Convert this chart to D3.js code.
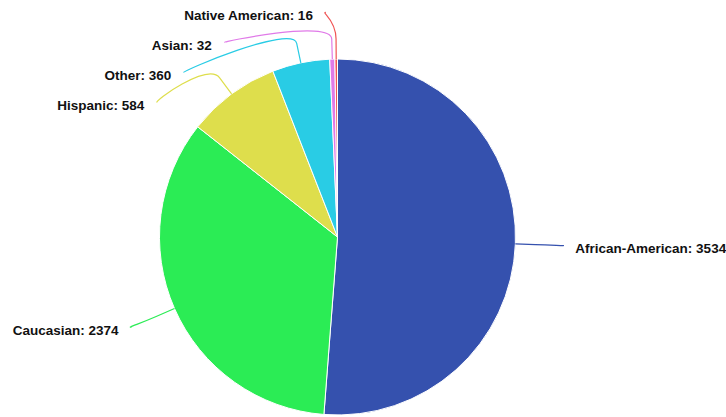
<!DOCTYPE html>
<html>
<head>
<meta charset="utf-8">
<script src="https://cdn.jsdelivr.net/npm/d3@7"></script>
<style>
  body { margin: 0; background: #fff; }
  text { font-family: "Liberation Sans", Arial, sans-serif; font-weight: bold; font-size: 13.5px; fill: #111; }
</style>
</head>
<body>
<script>
const width = 726;
const height = 417;
const cx = 337.5, cy = 237;
const radius = 178;
const labelRadius = 225;   // circle the label anchors sit on
const breakOffset = 20;    // where the connector bends, outside the slice
const labelGap = 30;       // min vertical spacing between labels on a side
const textPad = 13;

var categories = ["African-American", "Caucasian", "Hispanic", "Other", "Asian", "Native American"];
var counts = [3534, 2374, 584, 360, 32, 16];
var colors = ["#3551ae", "#2bec55", "#dede4c", "#29cce5", "#e07ae8", "#f05454"];

var dataSet = categories.map(function(c, i) { return {name: c, value: counts[i], color: colors[i]}; });

var svg = d3.select("body").append("svg")
    .attr("width", width)
    .attr("height", height);

var pie = d3.pie().sort(null).value(function(d) { return d.value; });
var arc = d3.arc().innerRadius(0).outerRadius(radius);
var arcs = pie(dataSet);

var g = svg.append("g").attr("transform", "translate(" + cx + "," + cy + ")");

g.selectAll("path.slice")
    .data(arcs)
    .enter().append("path")
    .attr("class", "slice")
    .attr("d", arc)
    .attr("fill", function(d) { return d.data.color; })
    .attr("stroke", "#fff")
    .attr("stroke-width", 1);

// label positions: natural spot on the label circle, then pushed apart per side
function polar(a, r) { return [Math.sin(a) * r, -Math.cos(a) * r]; }

var labels = arcs.map(function(d) {
    var mid = (d.startAngle + d.endAngle) / 2;
    var nat = polar(mid, labelRadius);
    return {d: d, mid: mid, left: nat[0] < 0, y: nat[1]};
});

var minY = -labelRadius + 0.3;
[true, false].forEach(function(side) {
    var list = labels.filter(function(l) { return l.left === side; })
        .sort(function(a, b) { return a.y - b.y; });
    var prev = -Infinity;
    list.forEach(function(l) {
        l.y = Math.max(l.y, prev + labelGap, minY);
        prev = l.y;
    });
});

labels.forEach(function(l) {
    var dy = Math.max(-1, Math.min(1, l.y / labelRadius));
    l.x = (l.left ? -1 : 1) * Math.cos(Math.asin(dy)) * labelRadius;
    l.touch = polar(l.mid, radius);
    l.brk = polar(l.mid, radius + breakOffset);
});

g.selectAll("path.connector")
    .data(labels)
    .enter().append("path")
    .attr("class", "connector")
    .attr("fill", "none")
    .attr("stroke", function(l) { return l.d.data.color; })
    .attr("stroke-width", 1.2)
    .attr("d", function(l) {
        var c2x = 2 * l.brk[0] - l.touch[0], c2y = 2 * l.brk[1] - l.touch[1];
        return "M" + l.x + "," + l.y +
            "C" + (l.x + (l.left ? -5 : 5)) + "," + l.y + " " + c2x + "," + c2y + " " + l.brk[0] + "," + l.brk[1] +
            "L" + l.touch[0] + "," + l.touch[1];
    });

g.selectAll("text.label")
    .data(labels)
    .enter().append("text")
    .attr("class", "label")
    .attr("x", function(l) { return l.x + (l.left ? -textPad : textPad); })
    .attr("y", function(l) { return l.y + 3; })
    .attr("dy", "0.35em")
    .attr("text-anchor", function(l) { return l.left ? "end" : "start"; })
    .text(function(l) { return l.d.data.name + ": " + l.d.data.value; });
</script>
</body>
</html>
